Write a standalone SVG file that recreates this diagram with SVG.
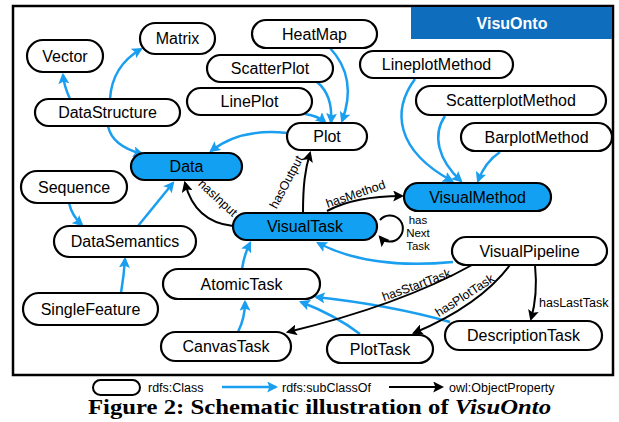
<svg xmlns="http://www.w3.org/2000/svg" width="619" height="422" viewBox="0 0 619 422">
<style>
.frame{fill:none;stroke:#000;stroke-width:2.5}
.node rect{fill:#fff;stroke:#000;stroke-width:2.2}
.node.b rect{fill:#12a0f2}
.node text{font-family:"Liberation Sans",Arial,sans-serif;font-size:16px;text-anchor:middle;fill:#000}
.sub{fill:none;stroke:#1a9ef0;stroke-width:2.5;marker-end:url(#ab)}
.obj{fill:none;stroke:#000;stroke-width:2;marker-end:url(#ak)}
.lbl{font-family:"Liberation Sans",Arial,sans-serif;font-size:12.5px;fill:#000}
.lbl.s{font-size:11.5px}
.leg{font-family:"Liberation Sans",Arial,sans-serif;font-size:12.5px;fill:#000}
</style>
<defs>
<marker id="ab" viewBox="0 0 10 10" refX="8" refY="5" markerWidth="11" markerHeight="11" markerUnits="userSpaceOnUse" orient="auto"><path d="M0,0 L10,5 L0,10 L2,5 z" fill="#1a9ef0"/></marker>
<marker id="ak" viewBox="0 0 10 10" refX="8" refY="5" markerWidth="11" markerHeight="11" markerUnits="userSpaceOnUse" orient="auto"><path d="M0,0 L10,5 L0,10 L2,5 z" fill="#000"/></marker>
</defs>
<rect class="frame" x="13" y="6" width="600" height="369"/>
<rect x="411" y="7" width="201" height="32" fill="#0e6dbd"/>
<text x="512" y="29" font-family="'Liberation Sans',Arial,sans-serif" font-size="16" font-weight="bold" fill="#fff" text-anchor="middle">VisuOnto</text>
<g id="connectors">
<path class="sub" d="M70,99 Q64,86 63,75"/>
<path class="sub" d="M110,99 Q112,66 141,49"/>
<path class="sub" d="M108,126 Q112,146 142,154"/>
<path class="sub" d="M69,203 Q72,216 82,225"/>
<path class="sub" d="M138,226 L173,183"/>
<path class="sub" d="M121,293 Q124,275 125,259"/>
<path class="sub" d="M287,133 Q240,128 211,151"/>
<path class="sub" d="M305,114 Q318,116 325,122"/>
<path class="sub" d="M317,82 Q333,95 331,122"/>
<path class="sub" d="M330,48 Q358,78 342,121"/>
<path class="sub" d="M415,79 C392,110 395,150 452,181"/>
<path class="sub" d="M445,116 C432,135 438,160 461,181"/>
<path class="sub" d="M500,152 Q485,162 478,181"/>
<path class="sub" d="M453,262 Q370,270 318,243"/>
<path class="sub" d="M450,322 Q390,305 316,297"/>
<path class="sub" d="M360,334 Q335,315 301,302"/>
<path class="sub" d="M238,332 Q245,318 245,302"/>
<path class="sub" d="M242,269 Q244,255 250,243"/>
<path class="obj" d="M233,226 Q195,222 185,183"/>
<path class="obj" d="M303,213 C303,185 305,170 310,153"/>
<path class="obj" d="M327,211 Q355,196 402,196"/>
<path class="obj" d="M380,220 A13,13 0 1 1 380,237"/>
<path class="obj" d="M472,265 Q400,305 288,332"/>
<path class="obj" d="M510,265 Q480,305 414,333"/>
<path class="obj" d="M535,265 Q538,295 531,319"/>
<text class="lbl" text-anchor="middle" transform="translate(215,201) rotate(43)">hasInput</text>
<text class="lbl" text-anchor="middle" transform="translate(290,184) rotate(-62)">hasOutput</text>
<text class="lbl" text-anchor="middle" transform="translate(357,198) rotate(-19)">hasMethod</text>
<text class="lbl s" text-anchor="middle" x="418" y="224">has</text>
<text class="lbl s" text-anchor="middle" x="418" y="237">Next</text>
<text class="lbl s" text-anchor="middle" x="418" y="250">Task</text>
<text class="lbl" text-anchor="middle" transform="translate(418,289) rotate(-20)">hasStartTask</text>
<text class="lbl" text-anchor="middle" transform="translate(467,299) rotate(-33)">hasPlotTask</text>
<text class="lbl" x="539" y="307">hasLastTask</text>
</g>
<g id="Vector" class="node"><rect x="27" y="40" width="76" height="32" rx="16"/><text x="65" y="61.7">Vector</text></g>
<g id="Matrix" class="node"><rect x="140" y="23" width="75" height="31" rx="15.5"/><text x="177.5" y="44">Matrix</text></g>
<g id="DataStructure" class="node"><rect x="35" y="99" width="145" height="27" rx="13.5"/><text x="107.5" y="118">DataStructure</text></g>
<g id="HeatMap" class="node"><rect x="252" y="20" width="125" height="28" rx="14"/><text x="314.5" y="39.7">HeatMap</text></g>
<g id="ScatterPlot" class="node"><rect x="207" y="55" width="126" height="27" rx="13.5"/><text x="270" y="74">ScatterPlot</text></g>
<g id="LinePlot" class="node"><rect x="187" y="88" width="125" height="27" rx="13.5"/><text x="249.5" y="107">LinePlot</text></g>
<g id="Plot" class="node"><rect x="287" y="123" width="80" height="27" rx="13.5"/><text x="327" y="142">Plot</text></g>
<g id="LineplotMethod" class="node"><rect x="360" y="51" width="153" height="27" rx="13.5"/><text x="436.5" y="70">LineplotMethod</text></g>
<g id="ScatterplotMethod" class="node"><rect x="416" y="86" width="190" height="29" rx="14.5"/><text x="511" y="106">ScatterplotMethod</text></g>
<g id="BarplotMethod" class="node"><rect x="461" y="123" width="151" height="28" rx="14"/><text x="536.5" y="142.7">BarplotMethod</text></g>
<g id="VisualMethod" class="node b"><rect x="404" y="183" width="147" height="28" rx="14"/><text x="477.5" y="202.7">VisualMethod</text></g>
<g id="Data" class="node b"><rect x="131" y="153" width="111" height="27" rx="13.5"/><text x="186.5" y="172">Data</text></g>
<g id="Sequence" class="node"><rect x="21" y="171" width="106" height="32" rx="16"/><text x="74" y="192.7">Sequence</text></g>
<g id="DataSemantics" class="node"><rect x="54" y="226" width="142" height="31" rx="15.5"/><text x="125" y="247">DataSemantics</text></g>
<g id="SingleFeature" class="node"><rect x="23" y="293" width="135" height="32" rx="16"/><text x="90.5" y="314.7">SingleFeature</text></g>
<g id="VisualTask" class="node b"><rect x="233" y="213" width="144" height="27" rx="13.5"/><text x="305" y="232">VisualTask</text></g>
<g id="VisualPipeline" class="node"><rect x="452" y="237" width="155" height="28" rx="14"/><text x="529.5" y="256.7">VisualPipeline</text></g>
<g id="AtomicTask" class="node"><rect x="163" y="269" width="157" height="30" rx="15"/><text x="241.5" y="289.7">AtomicTask</text></g>
<g id="CanvasTask" class="node"><rect x="161" y="332" width="130" height="29" rx="14.5"/><text x="226" y="352">CanvasTask</text></g>
<g id="PlotTask" class="node"><rect x="327" y="335" width="106" height="28" rx="14"/><text x="380" y="354.7">PlotTask</text></g>
<g id="DescriptionTask" class="node"><rect x="445" y="321" width="157" height="29" rx="14.5"/><text x="523.5" y="341">DescriptionTask</text></g>
<g id="legend">
<rect x="93" y="380" width="47" height="15" rx="7.5" fill="#fff" stroke="#000" stroke-width="2"/>
<text class="leg" x="148" y="391.5">rdfs:Class</text>
<path class="sub" d="M222,387 L276,387"/>
<text class="leg" x="282" y="391.5">rdfs:subClassOf</text>
<path class="obj" d="M389,387 L442,387"/>
<text class="leg" x="449" y="391.5">owl:ObjectProperty</text>
</g>
<text x="319.5" y="414" font-family="'Liberation Serif','Times New Roman',serif" font-size="20" font-weight="bold" text-anchor="middle" textLength="463" lengthAdjust="spacingAndGlyphs">Figure 2: Schematic illustration of <tspan font-style="italic">VisuOnto</tspan></text>
</svg>
